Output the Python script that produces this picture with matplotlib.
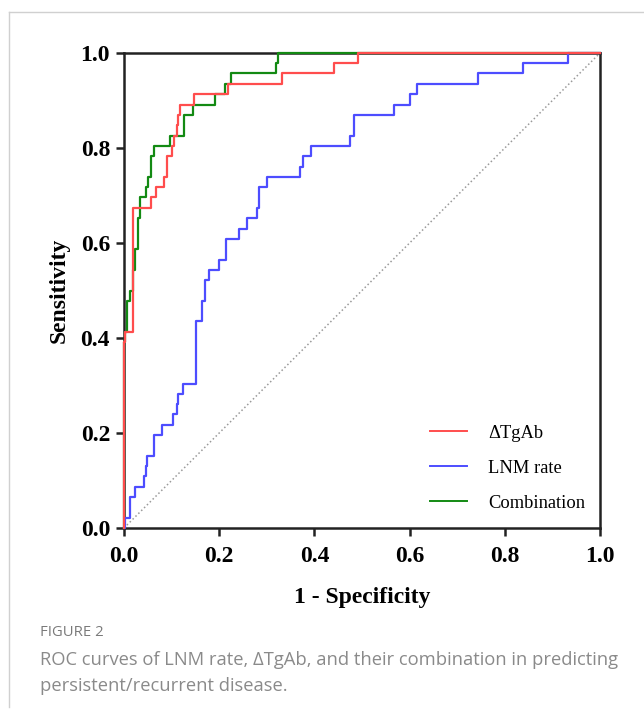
import matplotlib.pyplot as plt
from matplotlib.lines import Line2D

# ROC step points (1 - specificity, sensitivity)
tgab_fpr = [0, 0, 0.003, 0.018, 0.057, 0.067, 0.085, 0.090, 0.101, 0.106, 0.111,
            0.114, 0.118, 0.147, 0.219, 0.331, 0.442, 0.492, 1.0]
tgab_tpr = [0, 0.391, 0.413, 0.674, 0.696, 0.717, 0.739, 0.783, 0.804, 0.826, 0.848,
            0.870, 0.891, 0.913, 0.935, 0.957, 0.978, 1.0, 1.0]

lnm_fpr = [0, 0.002, 0.013, 0.023, 0.041, 0.046, 0.048, 0.062, 0.079, 0.102, 0.111,
           0.114, 0.123, 0.151, 0.163, 0.170, 0.179, 0.200, 0.214, 0.242, 0.258,
           0.279, 0.284, 0.301, 0.370, 0.377, 0.392, 0.475, 0.484, 0.567, 0.600,
           0.615, 0.743, 0.839, 0.932, 1.0]
lnm_tpr = [0, 0.022, 0.065, 0.087, 0.109, 0.130, 0.152, 0.196, 0.217, 0.239, 0.261,
           0.283, 0.304, 0.435, 0.478, 0.522, 0.543, 0.565, 0.609, 0.630, 0.652,
           0.674, 0.717, 0.739, 0.761, 0.783, 0.804, 0.826, 0.870, 0.891, 0.913,
           0.935, 0.957, 0.978, 1.0, 1.0]

comb_fpr = [0, 0, 0.003, 0.007, 0.013, 0.018, 0.023, 0.029, 0.034, 0.046, 0.051,
            0.056, 0.062, 0.097, 0.125, 0.146, 0.191, 0.212, 0.224, 0.319, 0.324, 1.0]
comb_tpr = [0, 0.391, 0.413, 0.478, 0.500, 0.543, 0.587, 0.652, 0.696, 0.717, 0.739,
            0.783, 0.804, 0.826, 0.870, 0.891, 0.913, 0.935, 0.957, 0.978, 1.0, 1.0]

labels = ['\u0394TgAb', 'LNM rate', 'Combination']
colors = ['#ff4d4d', '#4d4dff', '#138a13']
ticks = [0.0, 0.2, 0.4, 0.6, 0.8, 1.0]

serif = 'Liberation Serif'

fig = plt.figure(figsize=(6.44, 7.13), dpi=100)
ax = fig.add_axes([124/644, 1 - 528/713, 476/644, 475/713])

# chance line
ax.plot([0, 1], [0, 1], ls=':', color='#9a9a9a', lw=1.1)

ax.plot(comb_fpr, comb_tpr, drawstyle='steps-post', color=colors[2], lw=1.6,
        clip_on=False, zorder=3)
ax.plot(lnm_fpr, lnm_tpr, drawstyle='steps-post', color=colors[1], lw=1.6,
        clip_on=False, zorder=3)
ax.plot(tgab_fpr, tgab_tpr, drawstyle='steps-post', color=colors[0], lw=1.6,
        clip_on=False, zorder=4)

ax.set_xlim(0, 1)
ax.set_ylim(0, 1)
ax.set_xticks(ticks)
ax.set_yticks(ticks)
ax.set_xticklabels(['%.1f' % t for t in ticks], fontfamily=serif, fontweight='bold', fontsize=17)
ax.set_yticklabels(['%.1f' % t for t in ticks], fontfamily=serif, fontweight='bold', fontsize=17)
ax.tick_params(axis='both', direction='out', length=6, width=1.8, color='#222222')
ax.tick_params(axis='x', pad=7)
ax.tick_params(axis='y', pad=4)
for s in ax.spines.values():
    s.set_linewidth(1.8)
    s.set_color('#222222')

ax.set_xlabel('1 - Specificity', fontfamily=serif, fontweight='bold', fontsize=17, labelpad=14)
ax.set_ylabel('Sensitivity', fontfamily=serif, fontweight='bold', fontsize=17, labelpad=8)

handles = [Line2D([], [], color=c, lw=1.4) for c in colors]
ax.legend(handles, labels, loc='upper left', bbox_to_anchor=(0.643, 0.217), frameon=False,
          borderpad=0, borderaxespad=0, handlelength=2.0, handletextpad=1.15,
          labelspacing=0.97, prop={'family': serif, 'size': 13.3})

# caption panel frame
fig.add_artist(Line2D([9/644, 1], [1 - 12/713, 1 - 12/713], color='#d0d0d0', lw=1))
fig.add_artist(Line2D([9/644, 9/644], [1 - 12/713, 1 - 707/713], color='#d0d0d0', lw=1))

fig.text(40/644, 1 - 632/713, 'FIGURE 2', fontfamily='Open Sans', fontsize=10.7,
         color='#7a7a7a', va='center')
fig.text(40/644, 1 - 660/713,
         'ROC curves of LNM rate, \u0394TgAb, and their combination in predicting',
         fontfamily='Open Sans', fontsize=13.2, color='#8a8a8a', va='center')
fig.text(40/644, 1 - 686/713, 'persistent/recurrent disease.',
         fontfamily='Open Sans', fontsize=13.2, color='#8a8a8a', va='center')

fig.savefig('out.png', dpi=100)
